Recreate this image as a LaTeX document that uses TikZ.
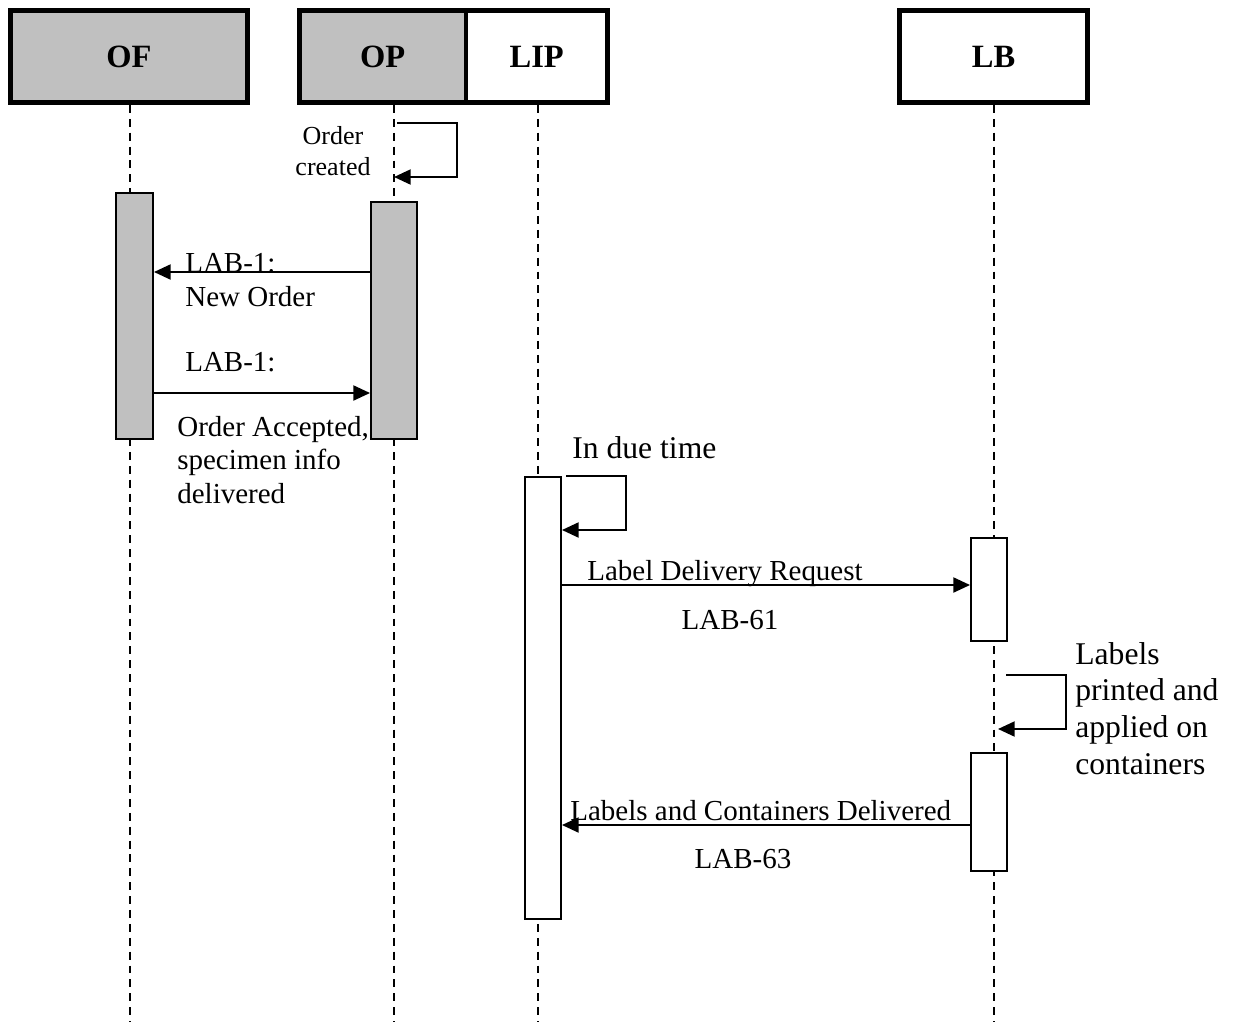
\documentclass[tikz,border=0pt]{standalone}
\usepackage{fontspec}
\setmainfont{Liberation Serif}
\usetikzlibrary{arrows.meta,positioning}
\definecolor{boxgray}{RGB}{192,192,192}
\tikzstyle{actor}=[rectangle,line width=2.8pt,draw=black,minimum height=1.84cm,
font=\fontsize{18.5}{22}\selectfont\bfseries]
\tikzstyle{life}=[line width=0.85pt,dash pattern=on 4.5pt off 3.4pt]
\tikzstyle{act}=[rectangle,line width=1.1pt,draw=black,inner sep=0]
\tikzstyle{msg}=[line width=1.3pt,-{Triangle[length=9.5pt,width=8.5pt]}]
\tikzstyle{lbl}=[inner sep=0,anchor=base west,align=left,font=\fontsize{16.5}{18.8}\selectfont]
\tikzstyle{biglbl}=[inner sep=0,anchor=base west,align=left,font=\fontsize{18}{20.8}\selectfont]

\begin{document}
\begin{tikzpicture}[x=0.02cm,y=-0.02cm]
            \useasboundingbox (0,0) rectangle (1235,1022);

            % HEADERS

            \node[actor,fill=boxgray,minimum width=4.74cm] (OF) at (129,56.5) {OF};
            \node[actor,fill=boxgray,minimum width=3.33cm] (OP) at (382.75,56.5) {OP};
            \node[actor,fill=white,minimum width=2.83cm] (LIP) at (536.75,56.5) {LIP};
            \node[actor,fill=white,minimum width=3.76cm] (LB) at (993.5,56.5) {LB};

            % LIFELINES

            \coordinate (OFend) at (130,1022);
            \coordinate (OPtop) at (394,105);
            \coordinate (OPend) at (394,1022);
            \coordinate (LIPend) at (538,1022);
            \coordinate (LBend) at (994,1022);

            \draw[life] (OF.south -| OFend) -- (OFend);
            \draw[life] (OPtop) -- (OPend);
            \draw[life] (LIP.south -| LIPend) -- (LIPend);
            \draw[life] (LB.south -| LBend) -- (LBend);

            % ACTIVATIONS

            \node[act,fill=boxgray,minimum width=0.74cm,minimum height=4.92cm] (OFa) at (134.5,316) {};
            \node[act,fill=boxgray,minimum width=0.92cm,minimum height=4.74cm] (OPa) at (394,320.5) {};
            \node[act,fill=white,minimum width=0.72cm,minimum height=8.84cm] (LIPa) at (543,698) {};
            \node[act,fill=white,minimum width=0.72cm,minimum height=2.06cm] (LBa1) at (989,589.5) {};
            \node[act,fill=white,minimum width=0.72cm,minimum height=2.36cm] (LBa2) at (989,812) {};

            % SELF MESSAGES

            \coordinate (created0) at (397,123);
            \coordinate (created1) at (394,177);
            \coordinate (due0) at (566,476);
            \coordinate (printed0) at (1006,675);
            \coordinate (printed1) at (998,729);

            \draw[msg] (created0) -| ++(60,54) -- (created1);
            \draw[msg] (due0) -| ++(60,54) -- (LIPa.east |- 0,530);
            \draw[msg] (printed0) -| ++(60,54) -- (printed1);

            \node[inner sep=0,anchor=base,align=center,font=\fontsize{14.8}{17.5}\selectfont] (createdtxt) at (333,175) {Order\\created};
            \node[biglbl] (duetxt) at (572,458) {In due time};
            \node[biglbl] (printedtxt) at (1075,774) {Labels\\printed and\\applied on\\containers};

            % MESSAGES

            \draw[msg] (OPa.west |- 0,272) -- (OFa.east |- 0,272);
            \draw[msg] (OFa.east |- 0,393) -- (OPa.west |- 0,393);
            \draw[msg] (LIPa.east |- 0,585) -- (LBa1.west |- 0,585);
            \draw[msg] (LBa2.west |- 0,825) -- (LIPa.east |- 0,825);

            \node[lbl] (neworder) at (185,306) {LAB-1:\\New Order};
            \node[lbl] (accepted1) at (185,371) {LAB-1:};
            \node[lbl] (accepted2) at (177,503) {Order Accepted,\\specimen info\\delivered};
            \node[lbl] (request) at (587,580) {Label Delivery Request};
            \node[lbl,anchor=base] (lab61) at (730,629) {LAB-61};
            \node[lbl] (delivered) at (570,820) {Labels and Containers Delivered};
            \node[lbl,anchor=base] (lab63) at (743,868) {LAB-63};

        \end{tikzpicture}
\end{document}
